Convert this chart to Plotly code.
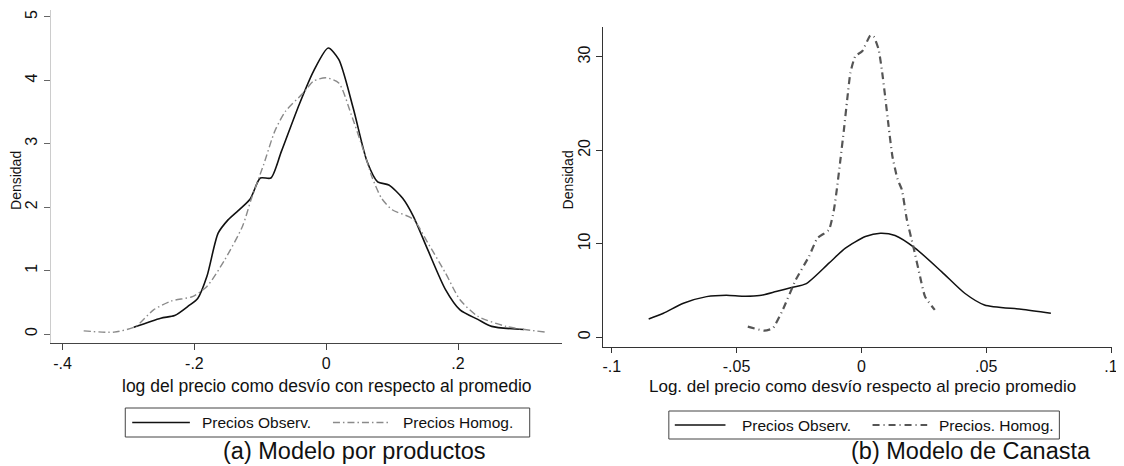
import plotly.graph_objects as go

# ---- Panel (a): Modelo por productos ----
a_obs_x = [-0.292, -0.251, -0.23, -0.208, -0.195, -0.181, -0.164, -0.149, -0.116, -0.1, -0.084,
           -0.068, -0.041, -0.019, 0.003, 0.019, 0.041, 0.062, 0.078, 0.095, 0.116, 0.132,
           0.154, 0.181, 0.203, 0.23, 0.251, 0.3]
a_obs_y = [0.105, 0.25, 0.29, 0.45, 0.56, 0.91, 1.59, 1.8, 2.12, 2.46, 2.46,
           2.88, 3.62, 4.15, 4.51, 4.33, 3.56, 2.72, 2.40, 2.35, 2.14, 1.86,
           1.33, 0.70, 0.38, 0.23, 0.12, 0.07]
a_hom_x = [-0.368, -0.322, -0.289, -0.262, -0.235, -0.203, -0.181, -0.154, -0.127, -0.114, -0.095,
           -0.078, -0.062, -0.035, -0.019, 0.0, 0.019, 0.038, 0.057, 0.07, 0.084, 0.1,
           0.132, 0.154, 0.181, 0.203, 0.23, 0.273, 0.332]
a_hom_y = [0.05, 0.03, 0.12, 0.38, 0.52, 0.59, 0.75, 1.17, 1.7, 2.12, 2.67,
           3.2, 3.51, 3.8, 3.99, 4.04, 3.96, 3.46, 2.88, 2.46, 2.14, 1.96,
           1.81, 1.44, 0.96, 0.54, 0.28, 0.12, 0.03]
a_xticks = [-0.4, -0.2, 0, 0.2]
a_xticklabels = ["-.4", "-.2", "0", ".2"]
a_yticks = [0, 1, 2, 3, 4, 5]
a_names = ["Precios Observ.", "Precios Homog."]

# ---- Panel (b): Modelo de Canasta ----
b_obs_x = [-0.0852, -0.0793, -0.0713, -0.062, -0.0541, -0.0474, -0.0408, -0.0342, -0.0276, -0.0223,
           -0.013, -0.0064, 0.0016, 0.0076, 0.0135, 0.0215, 0.0321, 0.0414, 0.0493, 0.064, 0.0759]
b_obs_y = [1.96, 2.57, 3.64, 4.35, 4.5, 4.39, 4.46, 4.89, 5.36, 5.71,
           7.93, 9.54, 10.78, 11.14, 10.89, 9.54, 7.03, 4.71, 3.46, 3.0, 2.57]
b_hom_x = [-0.0455, -0.0389, -0.0355, -0.0315, -0.0263, -0.021, -0.0176, -0.013, -0.011, -0.0097,
           -0.0084, -0.007, -0.0057, -0.0044, -0.0024, 0.0003, 0.0036, 0.0049, 0.0069, 0.0082,
           0.0095, 0.0109, 0.0124, 0.0145, 0.0162, 0.0182, 0.0208, 0.0235, 0.0255, 0.0294]
b_hom_y = [1.14, 0.71, 0.96, 2.93, 6.14, 8.64, 10.61, 11.5, 13.64, 16.1,
           19.0, 22.2, 25.4, 28.3, 30.1, 30.6, 32.3, 32.2, 30.8, 28.6,
           25.8, 22.6, 19.4, 16.9, 15.8, 12.6, 9.71, 6.5, 4.35, 2.93]
b_xticks = [-0.1, -0.05, 0, 0.05, 0.1]
b_xticklabels = ["-.1", "-.05", "0", ".05", ".1"]
b_yticks = [0, 10, 20, 30]
b_names = ["Precios Observ.", "Precios. Homog."]

FONT = "Liberation Sans, Arial, sans-serif"
# page body has an 8px margin: the figure is placed at (8, 8) in the window
OFF = 8
W, H = 1124 - OFF, 466 - OFF


def px(x):
    return (x - OFF) / W


def py(y):
    return 1 - (y - OFF) / H


obs_a_style = dict(color="#111111", width=1.6)
hom_a_style = dict(color="#8a8a8a", width=1.4, dash="7px,3px,1.5px,3px")
obs_b_style = dict(color="#111111", width=1.5)
hom_b_style = dict(color="#555555", width=2.2, dash="7px,4px,1px,4px")

fig = go.Figure()
fig.add_trace(go.Scatter(x=a_obs_x, y=a_obs_y, mode="lines", name=a_names[0],
                         line=dict(shape="spline", smoothing=0.7, **obs_a_style),
                         xaxis="x", yaxis="y"))
fig.add_trace(go.Scatter(x=a_hom_x, y=a_hom_y, mode="lines", name=a_names[1],
                         line=dict(shape="spline", smoothing=0.7, **hom_a_style),
                         xaxis="x", yaxis="y"))
fig.add_trace(go.Scatter(x=b_obs_x, y=b_obs_y, mode="lines", name=b_names[0],
                         line=dict(shape="spline", smoothing=0.7, **obs_b_style),
                         xaxis="x2", yaxis="y2"))
fig.add_trace(go.Scatter(x=b_hom_x, y=b_hom_y, mode="lines", name=b_names[1],
                         line=dict(shape="spline", smoothing=0.5, **hom_b_style),
                         xaxis="x2", yaxis="y2"))

axcommon = dict(showgrid=False, zeroline=False, ticks="outside", showline=True,
                tickfont=dict(family=FONT, size=16, color="#111111"))

fig.update_layout(
    width=W, height=H, margin=dict(l=0, r=0, t=0, b=0),
    paper_bgcolor="white", plot_bgcolor="white",
    font=dict(family=FONT, color="#111111"),
    showlegend=False,
    xaxis=dict(domain=[px(50), px(564)], range=[-0.418, 0.357], tickvals=a_xticks,
               ticktext=a_xticklabels, linecolor="#444444", tickcolor="#444444",
               ticklen=6, anchor="y", **axcommon),
    yaxis=dict(domain=[py(343), py(10)], range=[-0.142, 5.11], tickvals=a_yticks,
               tickangle=-90, linecolor="#cccccc", tickcolor="#666666", ticklen=6,
               anchor="x", **axcommon),
    xaxis2=dict(domain=[px(606), px(1118)], range=[-0.1034, 0.1004], tickvals=b_xticks,
                ticktext=b_xticklabels, linecolor="#333333", tickcolor="#333333",
                ticklen=5, anchor="y2", **axcommon),
    yaxis2=dict(domain=[py(347), py(27)], range=[-1.04, 33.2], tickvals=b_yticks,
                tickangle=-90, linecolor="#333333", tickcolor="#333333", ticklen=6,
                anchor="x2", **axcommon),
)

annots = [
    dict(text="Densidad", x=15, y=180, textangle=-90, size=14),
    dict(text="Densidad", x=571, y=180, textangle=-90, size=14),
    dict(text="log del precio como desvío con respecto al promedio", x=328, y=386,
         textangle=0, size=17.5),
    dict(text="Log. del precio como desvío respecto al precio promedio", x=867, y=386,
         textangle=0, size=17),
    dict(text="(a) Modelo por productos", x=356, y=451, textangle=0, size=23.5),
    dict(text="(b) Modelo de Canasta", x=976, y=451, textangle=0, size=23.5),
]
for a in annots:
    fig.add_annotation(text=a["text"], x=px(a["x"]), y=py(a["y"]), xref="paper", yref="paper",
                       xanchor="center", yanchor="middle", showarrow=False,
                       textangle=a["textangle"], font=dict(family=FONT, size=a["size"],
                                                           color="#111111"))

# Stata-style legend boxes (frame, line samples, labels)
legends = [
    dict(box=(125, 408, 532, 437), names=a_names, styles=[obs_a_style, hom_a_style],
         samples=[(132, 190), (334, 390)], texts=[200, 402]),
    dict(box=(672, 411, 1065, 439), names=b_names, styles=[obs_b_style, hom_b_style],
         samples=[(678, 729), (877, 932)], texts=[744, 942]),
]
for lg in legends:
    x0, y0, x1, y1 = lg["box"]
    fig.add_shape(type="rect", xref="paper", yref="paper", x0=px(x0), x1=px(x1),
                  y0=py(y1), y1=py(y0), line=dict(color="#444444", width=1),
                  fillcolor="white", layer="above")
    yc = (y0 + y1) / 2
    for (sx0, sx1), st, tx, nm in zip(lg["samples"], lg["styles"], lg["texts"], lg["names"]):
        fig.add_shape(type="line", xref="paper", yref="paper", x0=px(sx0), x1=px(sx1),
                      y0=py(yc), y1=py(yc), line=st, layer="above")
        fig.add_annotation(text=nm, x=px(tx), y=py(yc), xref="paper", yref="paper",
                           xanchor="left", yanchor="middle", showarrow=False,
                           font=dict(family=FONT, size=15.5, color="#111111"))

fig.write_html("out.html")
